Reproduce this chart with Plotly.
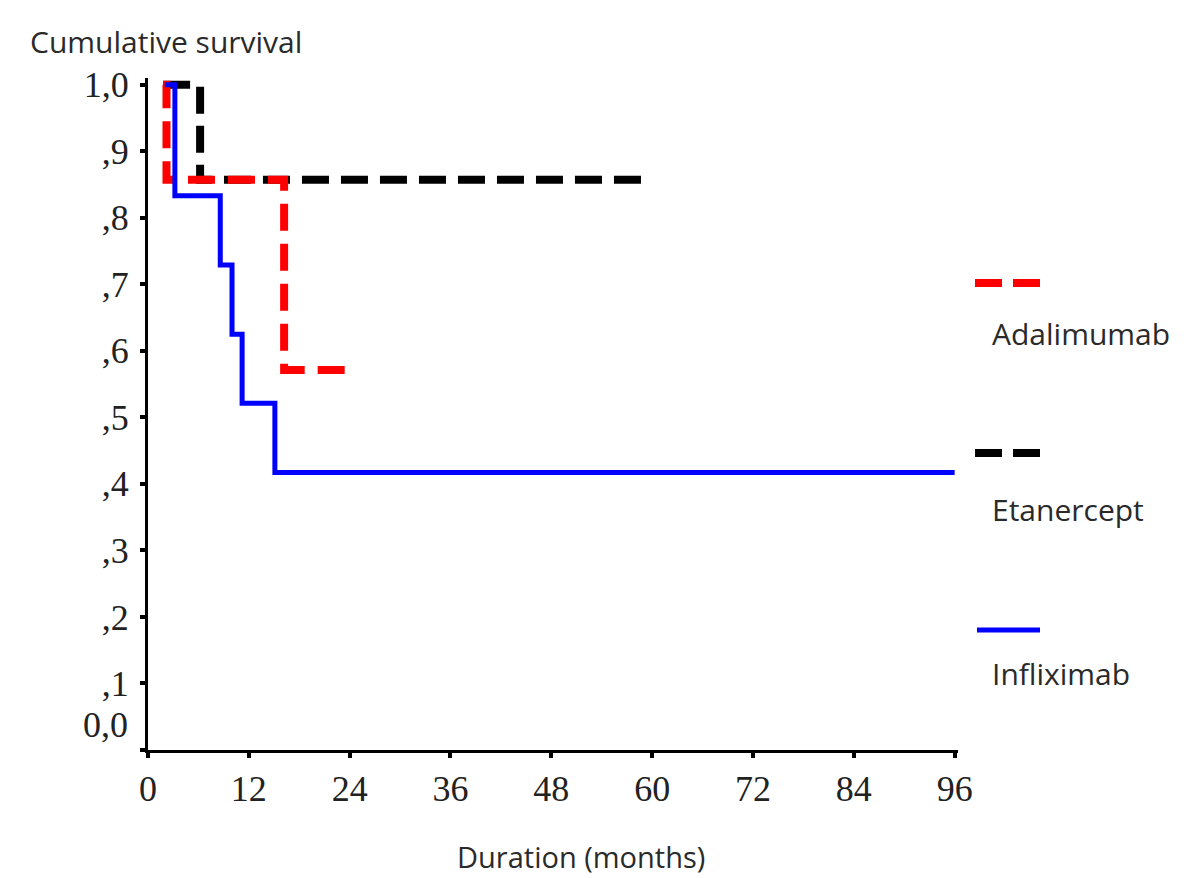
import plotly.graph_objects as go

# Data (months, cumulative survival)
ada_t = [1.8, 2.2, 16.2, 24]
ada_s = [1.0, 0.857, 0.571, 0.571]
eta_t = [1.8, 6.2, 60]
eta_s = [1.0, 0.857, 0.857]
inf_t = [2.0, 3.2, 8.6, 10.0, 11.2, 15.1, 96]
inf_s = [1.0, 0.833, 0.729, 0.625, 0.521, 0.417, 0.417]

x_ticks = [0, 12, 24, 36, 48, 60, 72, 84, 96]
y_ticks = [0, 0.1, 0.2, 0.3, 0.4, 0.5, 0.6, 0.7, 0.8, 0.9, 1.0]
y_ticktext = ["", ",1", ",2", ",3", ",4", ",5", ",6", ",7", ",8", ",9", "1,0"]

series_names = ["Adalimumab", "Etanercept", "Infliximab"]

fig = go.Figure()
fig.add_trace(go.Scatter(x=eta_t, y=eta_s, mode="lines", line_shape="hv",
                         line=dict(color="black", width=8, dash="27px,12px"),
                         name=series_names[1], showlegend=False))
fig.add_trace(go.Scatter(x=ada_t, y=ada_s, mode="lines", line_shape="hv",
                         line=dict(color="#ff0000", width=8, dash="27px,13px"),
                         name=series_names[0], showlegend=False))
fig.add_trace(go.Scatter(x=inf_t, y=inf_s, mode="lines", line_shape="hv",
                         line=dict(color="#0000ff", width=5),
                         name=series_names[2], showlegend=False))

serif = "Liberation Serif"
sans = "Open Sans"

FW, FH = 1180, 870
L, R, T, B = 140, 230, 70, 128
PW, PH = FW - L - R, FH - T - B
OFF = 8  # page body margin

fig.update_layout(
    width=FW, height=FH,
    margin=dict(l=L, r=R, t=T, b=B),
    paper_bgcolor="white", plot_bgcolor="white",
    showlegend=False,
    xaxis=dict(range=[0, 96.4], tickvals=x_ticks, ticktext=[str(v) for v in x_ticks],
               showgrid=False, zeroline=False, showline=True, linecolor="black", linewidth=3,
               ticks="outside", ticklen=5, tickwidth=4, tickcolor="black",
               tickfont=dict(family=serif, size=36, color="#222"), ticklabelstandoff=0),
    yaxis=dict(range=[0, 1.01], tickvals=y_ticks, ticktext=y_ticktext,
               showgrid=False, zeroline=False, showline=True, linecolor="black", linewidth=3,
               ticks="outside", ticklen=5, tickwidth=4, tickcolor="black",
               tickfont=dict(family=serif, size=36, color="#222"), ticklabelstandoff=4),
)


def px(X):
    return (X - OFF - L) / PW


def py(Y):
    return (FH - B - (Y - OFF)) / PH


ann = [
    dict(text="Cumulative survival", x=28, y=42, font=dict(family=sans, size=30, color="#2a2a2a"),
         xanchor="left"),
    dict(text="Duration (months)", x=581, y=856, font=dict(family=sans, size=29, color="#2a2a2a"),
         xanchor="center"),
    dict(text="0,0", x=130, y=725, font=dict(family=serif, size=36, color="#222"), xanchor="right"),
    dict(text="Adalimumab", x=990, y=333, font=dict(family=sans, size=30, color="#2a2a2a"), xanchor="left"),
    dict(text="Etanercept", x=990, y=510, font=dict(family=sans, size=30, color="#2a2a2a"), xanchor="left"),
    dict(text="Infliximab", x=990, y=673, font=dict(family=sans, size=30, color="#2a2a2a"), xanchor="left"),
]
for a in ann:
    fig.add_annotation(text=a["text"], x=px(a["x"]), y=py(a["y"]), xref="paper", yref="paper",
                       xanchor=a["xanchor"], yanchor="middle", showarrow=False, font=a["font"])


def seg(x0, x1, y, color, w):
    fig.add_shape(type="line", xref="paper", yref="paper",
                  x0=px(x0), x1=px(x1), y0=py(y), y1=py(y),
                  line=dict(color=color, width=w))


seg(975, 1002, 283, "#ff0000", 8)
seg(1013, 1040, 283, "#ff0000", 8)
seg(975, 1002, 453, "black", 8)
seg(1013, 1040, 453, "black", 8)
seg(977, 1040, 630, "#0000ff", 5)

fig.write_html("out.html")
